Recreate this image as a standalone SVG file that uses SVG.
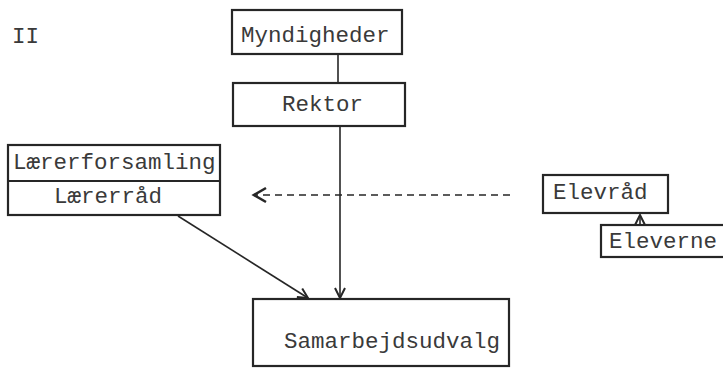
<svg xmlns="http://www.w3.org/2000/svg" width="723" height="368" viewBox="0 0 723 368">
<style>
.box{fill:none;stroke:#262626;stroke-width:2.2}
.t{font-family:"Liberation Mono","DejaVu Sans Mono",monospace;font-size:22.5px;fill:#3a3a3a}
.ln{fill:none;stroke:#262626;stroke-width:1.6}
.dash{fill:none;stroke:#262626;stroke-width:1.6;stroke-dasharray:7 5}
</style>
<defs>
<marker id="ah" viewBox="0 0 12 12" refX="11" refY="6" markerWidth="12" markerHeight="12" markerUnits="userSpaceOnUse" orient="auto">
<path d="M1,1 L11,6 L1,11" fill="none" stroke="#262626" stroke-width="2"/>
</marker>
<marker id="ahbig" viewBox="0 0 16 16" refX="1" refY="8" markerWidth="16" markerHeight="16" markerUnits="userSpaceOnUse" orient="auto">
<path d="M14,1 L2,8 L14,15" fill="none" stroke="#262626" stroke-width="2.6"/>
</marker>
</defs>
<rect width="723" height="368" fill="#ffffff"/>
<text class="t" x="12" y="43">II</text>
<g id="connectors">
<line class="ln" x1="338" y1="54" x2="338" y2="83"/>
<line class="ln" x1="340" y1="126" x2="340" y2="298" marker-end="url(#ah)"/>
<line class="ln" x1="178" y1="216" x2="308" y2="298" marker-end="url(#ah)"/>
<line class="dash" x1="510" y1="195" x2="254" y2="195" marker-end="url(#ahbig)" style="marker-end:none"/>
<path d="M266,188 L254,195 L266,202" fill="none" stroke="#262626" stroke-width="2.6"/>
<line class="ln" x1="640" y1="225" x2="640" y2="215" marker-end="url(#ah)"/>
</g>
<g id="myndigheder">
<rect class="box" x="232" y="10" width="170" height="44"/>
<text class="t" x="241" y="42">Myndigheder</text>
</g>
<g id="rektor">
<rect class="box" x="233" y="83" width="172" height="43"/>
<text class="t" x="282" y="111">Rektor</text>
</g>
<g id="laererforsamling">
<rect class="box" x="8" y="145" width="212" height="70"/>
<line class="box" x1="8" y1="181" x2="220" y2="181"/>
<text class="t" x="13" y="169">Lærerforsamling</text>
<text class="t" x="54" y="203">Lærerråd</text>
</g>
<g id="elevraad">
<rect class="box" x="543" y="175" width="125" height="38"/>
<text class="t" x="553" y="199">Elevråd</text>
</g>
<g id="eleverne">
<rect class="box" x="601" y="225" width="125" height="32"/>
<text class="t" x="609" y="248">Eleverne</text>
</g>
<g id="samarbejdsudvalg">
<rect class="box" x="253" y="299" width="256" height="67"/>
<text class="t" x="284" y="348">Samarbejdsudvalg</text>
</g>
</svg>
